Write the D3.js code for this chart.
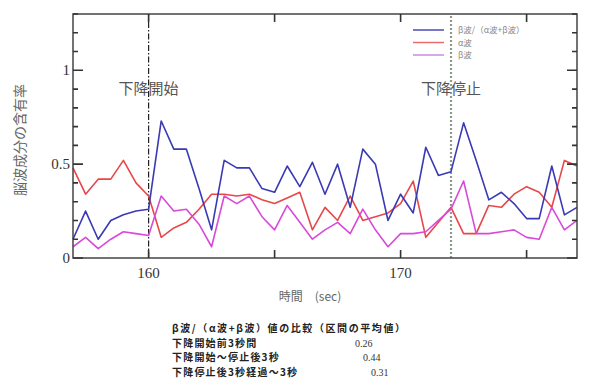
<!DOCTYPE html>
<html>
<head>
<meta charset="utf-8">
<script src="https://cdn.jsdelivr.net/npm/d3@7"></script>
<style>
  body { margin: 0; background: #fff; }
  svg { display: block; }
  .tick-label { font-family: "Liberation Serif", serif; font-size: 15px; fill: #333; }
  .jp { font-family: "Noto Sans CJK JP", sans-serif; fill: #555; }
</style>
</head>
<body>
<svg id="chart" width="589" height="389"></svg>
<script>
// time axis: samples every 0.5 sec from 157 to 177
const times = d3.range(157, 177.01, 0.5);
const ratio = [0.10, 0.25, 0.10, 0.20, 0.23, 0.25, 0.26, 0.73, 0.58, 0.58,
               0.37, 0.15, 0.52, 0.48, 0.48, 0.37, 0.35, 0.49, 0.38, 0.51,
               0.34, 0.50, 0.27, 0.58, 0.50, 0.20, 0.34, 0.24, 0.59, 0.44,
               0.46, 0.72, 0.52, 0.31, 0.35, 0.29, 0.21, 0.21, 0.49, 0.23, 0.27];
const alpha = [0.48, 0.34, 0.42, 0.42, 0.52, 0.40, 0.33, 0.11, 0.16, 0.19,
               0.26, 0.34, 0.34, 0.33, 0.34, 0.31, 0.29, 0.32, 0.35, 0.15,
               0.27, 0.20, 0.33, 0.20, 0.22, 0.24, 0.29, 0.41, 0.11, 0.19,
               0.27, 0.13, 0.13, 0.28, 0.27, 0.34, 0.38, 0.35, 0.27, 0.52, 0.49];
const beta  = [0.06, 0.11, 0.05, 0.10, 0.14, 0.13, 0.12, 0.33, 0.25, 0.26,
               0.18, 0.06, 0.33, 0.29, 0.33, 0.22, 0.15, 0.28, 0.19, 0.10,
               0.15, 0.19, 0.13, 0.26, 0.15, 0.06, 0.13, 0.13, 0.14, 0.20,
               0.26, 0.41, 0.13, 0.13, 0.14, 0.15, 0.11, 0.10, 0.27, 0.15, 0.20];

const seriesNames = ['β波/（α波+β波）', 'α波', 'β波'];
const seriesColors = ['#3a3ab4', '#e8474a', '#d84ad8'];
const legendColors = ['#4a4ab8', '#ec6a6a', '#c88ae6'];

const xTicks = [160, 165, 170, 175];
const xTickLabels = ['160', '', '170', ''];
const yTicks = [0, 0.5, 1];
const yTickLabels = ['0', '0.5', '1'];

const events = [
  { t: 160, label: '下降開始' },
  { t: 172, label: '下降停止' }
];

const summaryTitle = 'β波/（α波+β波）値の比較（区間の平均値）';
const summaryLabels = ['下降開始前3秒間', '下降開始～停止後3秒', '下降停止後3秒経過～3秒'];
const summaryValues = ['0.26', '0.44', '0.31'];

const margin = { top: 14, right: 12, bottom: 131, left: 73 };
const width = 589, height = 389;

const svg = d3.select('#chart');

const x = d3.scaleLinear().domain([157, 177]).range([margin.left, width - margin.right]);
const y = d3.scaleLinear().domain([0, 1.3]).range([height - margin.bottom, margin.top]);
const [plotLeft, plotRight] = x.range();
const [plotBottom, plotTop] = y.range();

// tick labels
svg.append('g').selectAll('text')
  .data(yTicks)
  .join('text')
  .attr('class', 'tick-label')
  .attr('x', plotLeft - 3)
  .attr('y', d => y(d) + 5)
  .attr('text-anchor', 'end')
  .text((d, i) => yTickLabels[i]);

svg.append('g').selectAll('text')
  .data(xTicks)
  .join('text')
  .attr('class', 'tick-label')
  .attr('x', d => x(d))
  .attr('y', plotBottom + 20)
  .attr('text-anchor', 'middle')
  .text((d, i) => xTickLabels[i]);

// event lines
svg.append('line')
  .attr('x1', x(events[0].t)).attr('x2', x(events[0].t))
  .attr('y1', plotBottom).attr('y2', plotTop)
  .attr('stroke', '#222').attr('stroke-width', 1.2)
  .attr('stroke-dasharray', '6,2,1.5,2');
svg.append('line')
  .attr('x1', x(events[1].t)).attr('x2', x(events[1].t))
  .attr('y1', plotBottom).attr('y2', plotTop)
  .attr('stroke', '#8c9c8c').attr('stroke-width', 2.2)
  .attr('stroke-dasharray', '2,2');

svg.append('g').selectAll('text')
  .data(events)
  .join('text')
  .attr('class', 'jp')
  .attr('x', d => x(d.t))
  .attr('y', y(0.9) + 5)
  .attr('text-anchor', 'middle')
  .attr('font-size', 15)
  .style('fill', '#555')
  .text(d => d.label);

// series
const line = d3.line().x((d, i) => x(times[i])).y(d => y(d));
const allSeries = [ratio, alpha, beta];
svg.append('g').selectAll('path')
  .data([alpha, beta, ratio])
  .join('path')
  .attr('d', line)
  .attr('fill', 'none')
  .attr('stroke', d => seriesColors[allSeries.indexOf(d)])
  .attr('stroke-width', 1.6)
  .attr('stroke-linejoin', 'round');

// frame
svg.append('rect')
  .attr('x', plotLeft).attr('y', plotTop)
  .attr('width', plotRight - plotLeft).attr('height', plotBottom - plotTop)
  .attr('fill', 'none').attr('stroke', '#444').attr('stroke-width', 1.5);

// ticks, pointing inward on all four sides (drawn as one path)
const minorY = d3.range(0, 1.3001, 0.1);
const tickPath = d3.path();
minorY.forEach(v => {
  const len = yTicks.some(t => Math.abs(t - v) < 1e-6) ? 10 : 5;
  tickPath.moveTo(plotLeft, y(v)); tickPath.lineTo(plotLeft + len, y(v));
  tickPath.moveTo(plotRight, y(v)); tickPath.lineTo(plotRight - len, y(v));
});
xTicks.forEach(t => {
  tickPath.moveTo(x(t), plotBottom); tickPath.lineTo(x(t), plotBottom - 8);
  tickPath.moveTo(x(t), plotTop); tickPath.lineTo(x(t), plotTop + 8);
});
svg.append('path')
  .attr('d', tickPath.toString())
  .attr('fill', 'none')
  .attr('stroke', '#333')
  .attr('stroke-width', 1.6);

// legend
const legend = svg.append('g');
seriesNames.forEach((name, i) => {
  const ly = 30 + i * 12.5;
  legend.append('line')
    .attr('x1', 413).attr('x2', 444).attr('y1', ly).attr('y2', ly)
    .attr('stroke', legendColors[i]).attr('stroke-width', 1.5);
  legend.append('text')
    .attr('class', 'jp')
    .attr('x', 458).attr('y', ly + 3)
    .attr('font-size', 8.5)
    .style('fill', '#888')
    .text(name);
});

// axis titles
svg.append('text')
  .attr('class', 'jp')
  .attr('transform', `translate(25,140) rotate(-90)`)
  .attr('text-anchor', 'middle')
  .attr('font-size', 14)
  .style('fill', '#666')
  .text('脳波成分の含有率');

svg.append('text')
  .attr('class', 'jp')
  .attr('x', 310).attr('y', 301)
  .attr('text-anchor', 'middle')
  .attr('font-size', 12)
  .style('fill', '#666')
  .text('時間　(sec)');

// summary block
const summary = svg.append('g');
summary.append('text')
  .attr('class', 'jp')
  .attr('x', 172).attr('y', 332)
  .attr('font-size', 10).attr('font-weight', 700)
  .attr('textLength', 233).attr('lengthAdjust', 'spacing')
  .style('fill', '#222')
  .text(summaryTitle);
summaryLabels.forEach((lab, i) => {
  const ly = 346.5 + i * 14.5;
  summary.append('text')
    .attr('class', 'jp')
    .attr('x', 172).attr('y', ly)
    .attr('font-size', 10).attr('font-weight', 700)
    .attr('letter-spacing', 1.2)
    .style('fill', '#222')
    .text(lab);
  summary.append('text')
    .attr('class', 'tick-label')
    .attr('x', 355 + i * 8).attr('y', ly)
    .style('font-size', '10px')
    .style('fill', '#333')
    .text(summaryValues[i]);
});
</script>
</body>
</html>
